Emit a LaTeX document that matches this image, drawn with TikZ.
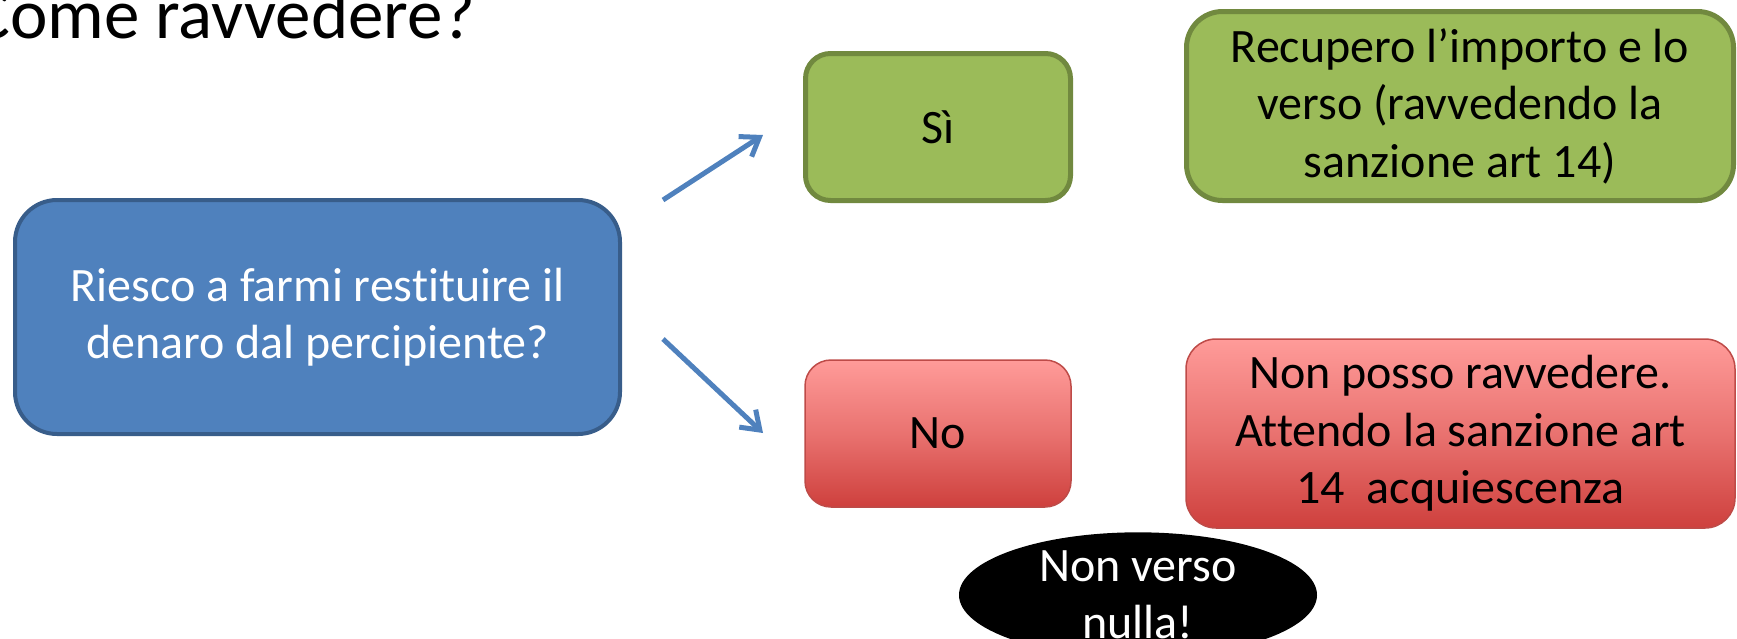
\documentclass[tikz,border=0pt]{standalone}
\usepackage{fontspec}
\setmainfont{Carlito}[Ligatures={NoCommon,NoRequired,NoContextual}]
\usetikzlibrary{arrows.meta,shapes.geometric}
\definecolor{bluefill}{RGB}{79,129,189}
\definecolor{blueline}{RGB}{56,93,138}
\definecolor{greenfill}{RGB}{155,187,89}
\definecolor{greenline}{RGB}{113,137,63}
\definecolor{redtop}{RGB}{255,155,153}
\definecolor{redbot}{RGB}{206,64,61}
\definecolor{redline}{RGB}{190,75,72}
\begin{document}
\begin{tikzpicture}[x=1pt,y=-1pt,
  box/.style={rectangle, align=center, inner sep=0pt, font=\fontsize{48}{57.5}\selectfont},
  bluebox/.style={box, fill=bluefill, draw=blueline, line width=4pt, rounded corners=42pt, text=white},
  greenbox/.style={box, fill=greenfill, draw=greenline, line width=5pt, text=black},
  redbox/.style={box, top color=redtop, bottom color=redbot, middle color=redtop!55!redbot, draw=redline, line width=1.5pt, text=black},
  arr/.style={draw=bluefill, line width=5pt, -{Straight Barb[length=17pt,width=24pt]}},
  oval/.style={ellipse, fill=black, text=white, inner sep=0pt, align=center, font=\fontsize{48}{57.5}\selectfont}
]
\useasboundingbox (0,0) rectangle (1737,638);
\clip (0,0) rectangle (1737,638);

\node[anchor=base west, inner sep=0pt, font=\fontsize{71}{80}\selectfont] (title) at (-28,38) {Come ravvedere?};

\node[bluebox, minimum width=605pt, minimum height=234pt] (q) at (317.5,317) {Riesco a farmi restituire il\\denaro dal percipiente?};

\node[greenbox, rounded corners=25pt, minimum width=265pt, minimum height=147pt] (si) at (938,127) {Sì};
\node[redbox, rounded corners=26pt, minimum width=266pt, minimum height=147pt] (no) at (938,433.5) {No};

\node[greenbox, rounded corners=36pt, minimum width=547pt, minimum height=189pt] (rec) at (1460,106) {Recupero l’importo e lo\\verso (ravvedendo la\\sanzione art 14)};
\node[redbox, rounded corners=30pt, minimum width=549pt, minimum height=189pt] (nonp) at (1460.5,433.5) {Non posso ravvedere.\\Attendo la sanzione art\\14\ \ acquiescenza};

\node[oval, minimum width=358pt, minimum height=118pt] (nv) at (1138,595) {Non verso\\nulla!};

\coordinate (a1s) at (663,200);
\coordinate (a1e) at (763,135);
\coordinate (a2s) at (663,339);
\coordinate (a2e) at (763,433);
\draw[arr] (a1s) -- (a1e);
\draw[arr] (a2s) -- (a2e);
\end{tikzpicture}
\end{document}
